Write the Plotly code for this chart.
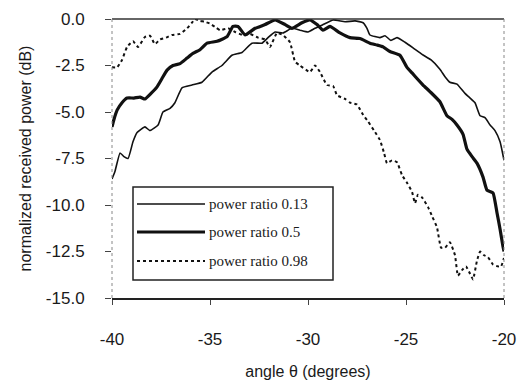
import plotly.graph_objects as go

# ---- data ----
theta_013 = [-40.00, -39.85, -39.59, -39.39, -39.18, -38.93, -38.72, -38.32, -38.06, -37.65,
             -37.40, -37.04, -36.79, -36.43, -35.92, -35.41, -34.90, -34.39, -33.88, -33.37,
             -32.86, -32.35, -32.04, -31.68, -31.28, -30.82, -30.41, -30.00, -29.64, -29.23,
             -28.72, -28.11, -27.60, -27.19, -26.99, -26.84, -26.33, -26.07, -25.77, -25.46,
             -25.05, -24.64, -24.18, -23.72, -23.27, -23.01, -22.76, -22.40, -21.99, -21.73,
             -21.48, -21.22, -20.97, -20.71, -20.46, -20.20, -20.00]
power_013 = [-8.6, -8.2, -7.2, -7.4, -7.5, -6.6, -6.1, -5.8, -6.0, -5.7,
             -5.0, -4.8, -4.5, -3.7, -3.55, -3.4, -2.85, -2.5, -1.95, -1.8,
             -1.3, -1.3, -1.0, -0.7, -0.75, -0.5, -0.6, -0.7, -0.5, -0.3,
             -0.05, -0.15, -0.1, -0.2, -0.5, -0.86, -1.0, -0.9, -1.15, -1.0,
             -1.25, -1.55, -1.9, -2.2, -2.7, -3.1, -3.4, -3.5, -4.0, -4.25,
             -4.5, -5.2, -5.3, -5.7, -6.0, -6.6, -7.6]

theta_05 = [-40.00, -39.90, -39.74, -39.49, -39.23, -38.88, -38.57, -38.32, -38.01, -37.70,
            -37.45, -37.19, -36.89, -36.53, -36.17, -35.87, -35.51, -35.15, -34.64, -34.13,
            -33.83, -33.57, -33.21, -32.70, -32.19, -31.68, -31.17, -30.82, -30.31, -29.90,
            -29.54, -29.23, -28.88, -28.37, -27.86, -27.35, -26.84, -26.48, -26.17, -25.82,
            -25.31, -24.95, -24.69, -24.44, -24.13, -23.78, -23.27, -22.91, -22.65, -22.40,
            -22.09, -21.89, -21.63, -21.38, -21.07, -20.87, -20.56, -20.36, -20.20, -20.05,
            -20.00]
power_05 = [-5.8, -5.4, -4.9, -4.5, -4.25, -4.25, -4.2, -4.3, -4.0, -3.65,
            -3.2, -2.75, -2.5, -2.4, -2.1, -1.85, -1.65, -1.3, -1.2, -0.95,
            -0.4, -0.4, -0.86, -0.5, -0.3, -0.05, -0.3, -0.5, -0.2, -0.05,
            -0.3, -0.6, -0.4, -0.75, -1.0, -1.05, -1.3, -1.4, -1.5, -1.75,
            -1.95, -2.6, -2.9, -3.2, -3.55, -3.9, -4.45, -5.2, -5.4, -5.7,
            -6.2, -7.0, -7.4, -7.75, -8.5, -9.2, -9.35, -10.4, -11.3, -12.25,
            -12.5]

theta_098 = [-40.00, -39.74, -39.49, -39.23, -38.93, -38.67, -38.32, -38.06, -37.81, -37.55,
             -37.24, -36.94, -36.53, -36.17, -35.92, -35.77, -35.51, -35.26, -35.00, -34.74,
             -34.49, -34.08, -33.72, -33.32, -32.96, -32.55, -32.19, -31.94, -31.58, -31.28,
             -30.92, -30.66, -30.41, -29.90, -29.64, -29.39, -29.03, -28.72, -28.52, -28.11,
             -27.86, -27.50, -27.19, -26.94, -26.63, -26.33, -26.12, -25.97, -25.71, -25.46,
             -25.20, -24.95, -24.69, -24.54, -24.39, -24.18, -23.88, -23.67, -23.42, -23.21,
             -23.01, -22.76, -22.50, -22.35, -22.14, -21.94, -21.73, -21.58, -21.38, -21.22,
             -21.02, -20.82, -20.56, -20.31, -20.15, -20.00]
power_098 = [-2.6, -2.6, -2.2, -1.5, -1.2, -1.5, -0.97, -0.9, -1.35, -1.1,
             -1.0, -0.86, -0.8, -0.5, -0.2, 0.0, -0.1, -0.15, -0.25, -0.43,
             -0.6, -0.5, -0.7, -0.86, -0.8, -1.0, -1.1, -1.5, -0.75, -0.86,
             -1.25, -2.3, -2.5, -2.85, -2.5, -2.85, -3.55, -3.6, -4.1, -4.3,
             -4.5, -4.6, -5.15, -5.5, -6.0, -6.5, -7.2, -7.75, -7.6, -7.7,
             -8.4, -8.8, -9.3, -9.9, -9.45, -9.6, -10.1, -10.6, -11.2, -12.3,
             -12.3, -12.0, -12.7, -13.8, -13.5, -13.3, -13.7, -14.0, -13.0, -12.5,
             -12.7, -12.8, -13.2, -13.3, -13.3, -12.85]

series_names = ["power ratio 0.13", "power ratio 0.5", "power ratio 0.98"]
x_ticks = [-40, -35, -30, -25, -20]
y_ticks = [0.0, -2.5, -5.0, -7.5, -10.0, -12.5, -15.0]
y_tick_labels = ["0.0", "-2.5", "-5.0", "-7.5", "-10.0", "-12.5", "-15.0"]

# ---- figure ----
styles = [dict(width=1.6, dash="solid"), dict(width=3.2, dash="solid"), dict(width=2.0, dash="dot")]
fig = go.Figure()
for xs, ys, name, st in zip([theta_013, theta_05, theta_098],
                            [power_013, power_05, power_098], series_names, styles):
    fig.add_trace(go.Scatter(x=xs, y=ys, mode="lines", name=name, showlegend=False,
                             line=dict(color="#111111", width=st["width"], dash=st["dash"],
                                       shape="spline", smoothing=0.4)))

FONT = "Liberation Sans, Arial, sans-serif"
fig.update_layout(
    width=518, height=380,
    margin=dict(l=112, r=14, t=19, b=82),
    paper_bgcolor="white", plot_bgcolor="white",
    font=dict(family=FONT, size=17, color="#1a1a1a"),
    xaxis=dict(range=[-40, -20], tickvals=x_ticks, ticktext=[str(v) for v in x_ticks],
               showgrid=False, zeroline=False, showline=True, linecolor="#222222", linewidth=1.5,
               ticks="outside", ticklen=5, tickcolor="#444444", ticklabelstandoff=20,
               automargin=False,
               title=dict(text="angle θ (degrees)", font=dict(size=16), standoff=18)),
    yaxis=dict(range=[-15, 0], tickvals=y_ticks, ticktext=y_tick_labels,
               showgrid=False, zeroline=False, showline=False,
               ticks="outside", ticklen=6, tickcolor="#444444", ticklabelstandoff=17,
               automargin=False,
               title=dict(text="normalized received power (dB)", font=dict(size=16), standoff=10)),
)

# frame: top solid, left/right faint dotted
fig.add_shape(type="line", xref="paper", yref="paper", x0=0, x1=1, y0=1, y1=1,
              line=dict(color="#333333", width=1.5))
fig.add_shape(type="line", xref="paper", yref="paper", x0=0, x1=0, y0=0, y1=1,
              line=dict(color="#888888", width=1, dash="dot"))
fig.add_shape(type="line", xref="paper", yref="paper", x0=1, x1=1, y0=0, y1=1,
              line=dict(color="#888888", width=1, dash="dot"))

# custom legend
def px2paper(px, py):
    return (px - 112) / 392.0, (298 - py) / 279.0

bx0, by0 = px2paper(133, 280)
bx1, by1 = px2paper(333, 187)
fig.add_shape(type="rect", xref="paper", yref="paper", x0=bx0, x1=bx1, y0=by0, y1=by1,
              line=dict(color="#222222", width=1.5), fillcolor="white", layer="above")
for name, st, row in zip(series_names, styles, [204, 232, 261]):
    lx0, ly = px2paper(137, row)
    lx1, _ = px2paper(205, row)
    fig.add_shape(type="line", xref="paper", yref="paper", x0=lx0, x1=lx1, y0=ly, y1=ly,
                  line=dict(color="#111111", width=st["width"], dash=st["dash"]), layer="above")
    tx, _ = px2paper(207, row)
    fig.add_annotation(xref="paper", yref="paper", x=tx, y=ly, text=name, showarrow=False,
                       xanchor="left", yanchor="middle",
                       font=dict(family="Liberation Serif, Times New Roman, serif", size=15,
                                 color="#1a1a1a"))

fig.write_html("out.html")
